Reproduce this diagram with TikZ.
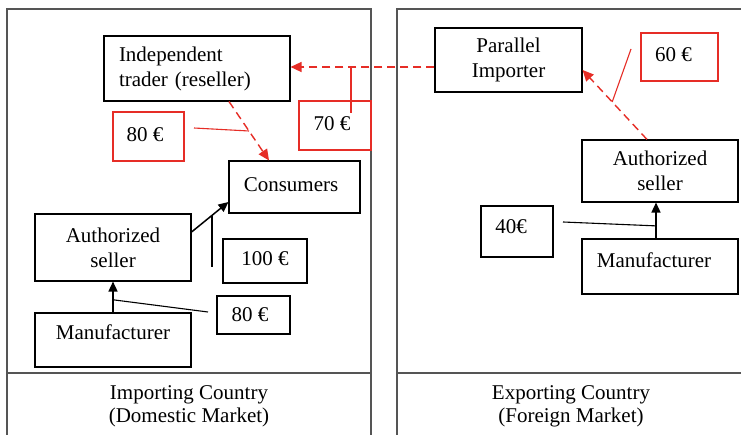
\documentclass[tikz,border=0pt]{standalone}
\usepackage{fontspec}
\setmainfont{Liberation Serif}
\usetikzlibrary{arrows.meta,calc}
\definecolor{myred}{RGB}{230,45,38}
\definecolor{panelgray}{RGB}{85,85,85}
\tikzset{
  box/.style={draw=black, line width=1.1pt, inner sep=0pt, font=\fontsize{21}{25}\selectfont},
  one/.style={text height=15pt, text depth=5pt},
  rbox/.style={box, draw=myred},
  panel/.style={draw=panelgray, line width=1.8pt},
  arr/.style={draw=black, line width=1.5pt, -{Triangle[length=10pt,width=9pt]}},
  rdash/.style={draw=myred, line width=1.4pt, dash pattern=on 8pt off 5pt, -{Triangle[length=11pt,width=10pt]}},
  rline/.style={draw=myred, line width=1.1pt},
  kline/.style={draw=black, line width=1.1pt},
  lbl/.style={align=center, inner sep=0pt, font=\fontsize{21}{23}\selectfont}
}
\begin{document}
\begin{tikzpicture}[x=1pt,y=-1pt]
\clip (0,0) rectangle (741,435);
\fill[white] (0,0) rectangle (741,435);
% panels
\draw[panel] (7,445) -- (7,9) -- (371,9) -- (371,445);
\draw[panel] (7,373) -- (371,373);
\draw[panel] (397,445) -- (397,9) -- (760,9);
\draw[panel] (397,373) -- (760,373);
\node[lbl] (impL) at (189,406.5) {Importing Country\\(Domestic Market)};
\node[lbl] (expL) at (571,406.5) {Exporting Country\\(Foreign Market)};
% left market nodes
\node[box, minimum width=186pt, minimum height=65pt, text width=156pt, inner xsep=15pt, align=left] (it) at (197,68.5) {Independent\\trader (reseller)};
\node[box, one, minimum width=131pt, minimum height=52pt] (cons) at (294.5,187) {\hspace*{-7pt}Consumers};
\node[box, minimum width=156pt, minimum height=67pt, align=center] (asL) at (113,247.5) {Authorized\\seller};
\node[box, one, text depth=15pt, minimum width=156pt, minimum height=54pt] (mfL) at (113,340) {Manufacturer};
\node[rbox, one, minimum width=71pt, minimum height=49pt] (r80) at (148.5,136.5) {\hspace*{-7pt}80 €};
\node[rbox, one, minimum width=72pt, minimum height=49pt] (r70) at (335,125.5) {\hspace*{-6pt}70 €};
\node[box, one, minimum width=84pt, minimum height=44pt] (b100) at (265,261) {100 €};
\node[box, one, text depth=2pt, minimum width=73pt, minimum height=38pt] (b80) at (253.5,315) {\hspace*{-7pt}80 €};
% right market nodes
\node[box, minimum width=147pt, minimum height=64pt, align=center] (pi) at (508.5,60) {Parallel\\Importer};
\node[rbox, one, minimum width=77pt, minimum height=48pt] (r60) at (679.5,57) {\hspace*{-12pt}60 €};
\node[box, minimum width=156pt, minimum height=62pt, align=center] (asR) at (660,171) {Authorized\\seller};
\node[box, one, text depth=12pt, minimum width=156pt, minimum height=55pt] (mfR) at (660,266.5) {\hspace*{-12pt}Manufacturer};
\node[box, one, text depth=10pt, minimum width=72pt, minimum height=51pt] (b40) at (517,231.5) {\hspace*{-12pt}40€};
% black arrows
\draw[arr] (mfL.north) -- (asL.south);
\coordinate (a1) at ([yshift=15.5pt]asL.east);
\coordinate (a2) at ([yshift=-15pt]cons.west);
\draw[arr] (a1) -- (a2);
\coordinate (ar1) at ([xshift=-4pt]mfR.north);
\coordinate (ar2) at ([xshift=-4pt]asR.south);
\draw[arr] (ar1) -- (ar2);
% black price lines
\coordinate (jL) at ($(mfL.north)!0.41!(asL.south)$);
\coordinate (k80) at (208,312);
\draw[kline] (jL) -- (k80);
\coordinate (j100) at ($(a1)!0.553!(a2)$);
\coordinate (k100) at (212,267);
\draw[kline] (k100) -- (k100 |- j100);
\coordinate (j40) at ($(ar1)!0.35!(ar2)$);
\coordinate (k40) at (563,222);
\draw[kline] (k40) -- (j40);
% red dashed flows
\coordinate (d1s) at ([xshift=32pt]it.south);
\coordinate (d1e) at ([xshift=-25.5pt]cons.north);
\draw[rdash] (d1s) -- (d1e);
\coordinate (d2s) at ([yshift=-7pt]pi.west);
\draw[rdash] (d2s) -- (it.east |- d2s);
\coordinate (d3s) at ([xshift=-13pt]asR.north);
\coordinate (d3e) at ([yshift=-10pt]pi.east);
\draw[rdash] (d3s) -- (d3e);
% red price lines
\coordinate (jr80) at ($(d1s)!0.5!(d1e)$);
\coordinate (k80r) at (194,128);
\draw[rline] (k80r) -- (jr80);
\coordinate (k70) at (351,113);
\draw[rline] (k70) -- (k70 |- d2s);
\coordinate (j60) at ($(d3s)!0.54!(d3e)$);
\coordinate (k60) at (631,49);
\draw[rline] (k60) -- (j60);
\end{tikzpicture}
\end{document}
